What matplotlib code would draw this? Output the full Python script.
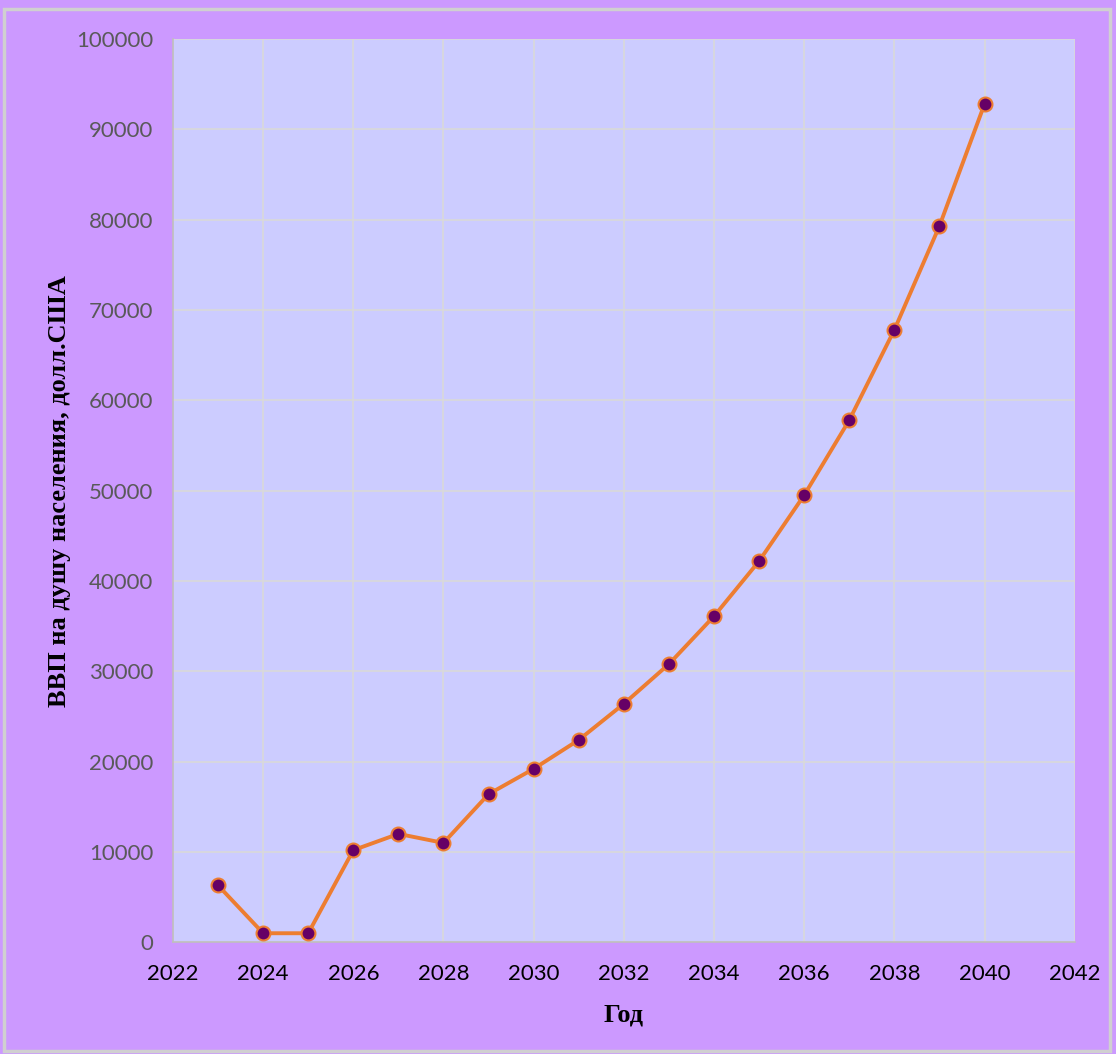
import matplotlib.pyplot as plt
from matplotlib.patches import Rectangle

# ВВП на душу населения по годам
years = [2023, 2024, 2025, 2026, 2027, 2028, 2029, 2030, 2031, 2032,
         2033, 2034, 2035, 2036, 2037, 2038, 2039, 2040]
gdp = [6300, 1000, 1000, 10200, 12000, 11000, 16400, 19200, 22400, 26400,
       30800, 36100, 42200, 49500, 57800, 67800, 79300, 92800]

x_ticks = list(range(2022, 2043, 2))
y_ticks = list(range(0, 100001, 10000))

fig = plt.figure(figsize=(11.16, 10.54), dpi=100)
fig.patch.set_facecolor('#CC99FF')
fig.patches.append(Rectangle((0.004, 0.003), 0.991, 0.988, transform=fig.transFigure,
                             fill=False, edgecolor='#D0D0D0', linewidth=2.5))

ax = fig.add_axes([0.155, 0.106, 0.808, 0.857])
ax.set_facecolor('#CCCCFF')

ax.plot(years, gdp, color='#ED7D31', linewidth=2.8, marker='o', markersize=10,
        markerfacecolor='#660066', markeredgecolor='#ED7D31', markeredgewidth=1.5,
        zorder=3)

ax.set_xlim(2022, 2042)
ax.set_ylim(0, 100000)
ax.set_xticks(x_ticks)
ax.set_yticks(y_ticks)
ax.grid(True, color='#D9D9D9', linewidth=1.2)
ax.set_axisbelow(True)

for side in ['top', 'right']:
    ax.spines[side].set_visible(False)
for side in ['left', 'bottom']:
    ax.spines[side].set_color('#BFBFBF')
    ax.spines[side].set_linewidth(1.2)

ax.tick_params(axis='both', length=0, labelsize=16)
ax.tick_params(axis='y', labelcolor='#595959', pad=14)
ax.tick_params(axis='x', labelcolor='black', pad=16)
for lbl in ax.get_xticklabels() + ax.get_yticklabels():
    lbl.set_family('Lato')

ax.set_xlabel('Год', fontsize=19, fontweight='bold', family='Liberation Serif', labelpad=14)
ax.set_ylabel('ВВП на душу населения, долл.США', fontsize=19, fontweight='bold',
              family='Liberation Serif', labelpad=4)

fig.savefig('out.png', dpi=100, facecolor=fig.get_facecolor())
